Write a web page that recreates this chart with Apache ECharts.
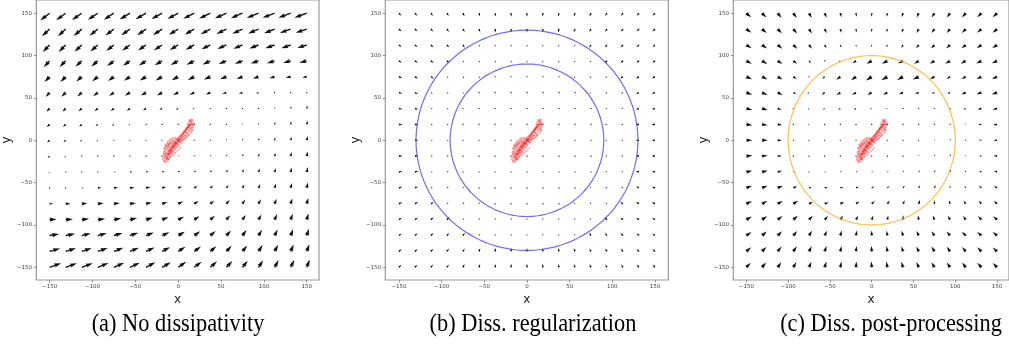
<!DOCTYPE html>
<html><head><meta charset="utf-8">
<script src="https://cdn.jsdelivr.net/npm/echarts@6/dist/echarts.min.js"></script>
<style>html,body{margin:0;padding:0;background:#fff}#c{width:1009px;height:347px}</style>
</head><body><div id="c"></div><script>
// ---------------- DATA ----------------
const GRID_X = [-150,-131.25,-112.5,-93.75,-75,-56.25,-37.5,-18.75,0,18.75,37.5,56.25,75,93.75,112.5,131.25,150];
const GRID_Y = [150,131.25,112.5,93.75,75,56.25,37.5,18.75,0,-18.75,-37.5,-56.25,-75,-93.75,-112.5,-131.25,-150];
const TICKS = [-150,-100,-50,0,50,100,150];
const CAPTIONS = ['(a) No dissipativity','(b) Diss. regularization','(c) Diss. post-processing'];
const CIRCLES_B = [90,130];
const CIRCLES_C = [100];

// (a) No dissipativity : vector components, rows top (y=150) to bottom (y=-150)
const A_U = [
[-9.3,-9.5,-9.7,-9.9,-10.1,-10.3,-10.5,-10.6,-10.8,-11.0,-11.2,-11.4,-11.6,-11.8,-12.0,-12.2,-12.3],
[-7.6,-7.8,-8.0,-8.3,-8.5,-8.7,-8.9,-9.1,-9.3,-9.5,-9.7,-9.9,-10.1,-10.3,-10.5,-10.8,-11.0],
[-6.8,-7.0,-7.2,-7.4,-7.6,-7.8,-8.0,-8.2,-8.4,-8.6,-8.8,-9.0,-9.1,-9.2,-9.3,-9.4,-9.5],
[-5.9,-6.1,-6.3,-6.5,-6.7,-6.9,-7.1,-7.3,-7.5,-7.6,-7.7,-7.8,-7.8,-7.8,-7.7,-7.6,-7.5],
[-5.0,-5.2,-5.4,-5.6,-5.8,-6.0,-6.2,-6.4,-6.5,-6.5,-6.4,-6.2,-6.0,-5.7,-5.3,-4.9,-4.5],
[-4.0,-4.2,-4.4,-4.6,-4.8,-5.0,-5.1,-5.1,-5.0,-4.8,-4.5,-4.1,-3.5,-2.6,-1.2,-0.3,0.1],
[-3.1,-3.2,-3.3,-3.3,-3.2,-3.1,-3.0,-2.8,-2.5,-2.0,-1.3,-0.6,0.0,0.3,0.5,0.6,0.7],
[-2.8,-2.7,-2.5,-2.3,-2.0,-1.6,-1.1,-0.6,-0.3,0.0,0.2,0.3,0.4,0.5,0.6,0.7,0.8],
[-2.5,-2.3,-2.0,-1.5,-1.0,-0.5,0.0,0.2,0.3,0.5,0.6,0.7,0.7,0.8,0.8,0.9,1.0],
[-2.0,-1.5,-1.0,-0.3,0.3,0.7,1.0,1.2,1.3,1.3,1.2,1.1,1.0,1.0,1.0,1.0,1.0],
[-1.2,-0.5,0.0,1.0,2.0,2.4,2.5,2.4,2.2,2.0,1.8,1.6,1.4,1.3,1.2,1.1,1.1],
[-0.3,0.5,2.0,3.5,4.2,4.5,4.5,4.2,3.8,3.3,2.8,2.4,2.0,1.7,1.5,1.3,1.2],
[3.5,4.8,5.5,5.9,6.0,6.0,5.8,5.4,5.0,4.4,3.8,3.3,2.8,2.4,2.0,1.7,1.5],
[7.0,7.2,7.3,7.3,7.3,7.1,6.8,6.4,5.8,5.2,4.5,3.9,3.3,2.9,2.5,2.1,1.8],
[9.5,9.4,9.2,9.0,8.7,8.3,7.8,7.3,6.7,6.0,5.3,4.6,4.0,3.5,3.0,2.6,2.2],
[10.5,10.3,10.0,9.8,9.5,9.0,8.5,7.9,7.3,6.7,6.0,5.3,4.7,4.1,3.5,3.0,2.6],
[11.5,11.2,11.0,10.7,10.3,9.8,9.3,8.7,8.0,7.4,6.7,6.0,5.3,4.6,4.0,3.5,3.0]
];
const A_V = [
[-7.3,-7.1,-6.9,-6.7,-6.5,-6.3,-6.1,-5.9,-5.8,-5.6,-5.4,-5.2,-5.0,-4.9,-4.7,-4.6,-4.5],
[-7.3,-7.1,-6.9,-6.7,-6.5,-6.3,-6.1,-5.9,-5.7,-5.5,-5.3,-5.0,-4.8,-4.5,-4.3,-4.0,-3.8],
[-7.2,-7.0,-6.8,-6.5,-6.2,-5.9,-5.6,-5.3,-5.0,-4.7,-4.4,-4.1,-3.8,-3.6,-3.4,-3.2,-3.0],
[-6.4,-6.2,-5.9,-5.6,-5.3,-5.0,-4.7,-4.4,-4.2,-3.9,-3.6,-3.3,-3.0,-2.7,-2.4,-2.1,-1.8],
[-5.4,-5.2,-4.9,-4.6,-4.3,-4.1,-3.9,-3.7,-3.5,-3.2,-2.9,-2.6,-2.2,-1.8,-1.5,-1.1,-0.8],
[-4.4,-4.1,-3.8,-3.6,-3.4,-3.2,-3.0,-2.8,-2.5,-2.2,-1.8,-1.4,-1.0,-0.6,-0.2,0.2,0.6],
[-3.4,-3.2,-3.0,-2.8,-2.6,-2.3,-2.0,-1.6,-1.2,-0.8,-0.4,0.0,0.4,1.0,1.7,2.4,3.1],
[-3.0,-2.7,-2.3,-1.9,-1.5,-1.1,-0.7,-0.3,0.0,0.3,0.6,1.0,1.5,2.0,2.6,3.2,3.8],
[-2.5,-2.0,-1.5,-1.0,-0.5,-0.2,0.0,0.1,0.3,0.6,1.0,1.5,2.0,2.5,3.0,3.6,4.3],
[-2.0,-1.3,-0.7,0.0,0.2,0.4,0.5,0.6,0.8,1.1,1.5,2.0,2.5,3.0,3.5,4.1,4.7],
[-1.0,-0.3,0.0,0.2,0.3,0.5,0.7,0.9,1.2,1.6,2.0,2.5,3.0,3.5,4.0,4.5,5.0],
[0.0,0.0,0.0,0.2,0.3,0.5,0.8,1.1,1.5,2.0,2.5,3.0,3.5,4.0,4.5,5.0,5.4],
[0.0,0.1,0.3,0.5,0.7,0.9,1.2,1.7,2.2,2.7,3.2,3.7,4.2,4.6,5.0,5.4,5.8],
[0.3,0.5,0.8,1.0,1.3,1.6,2.0,2.5,3.0,3.5,4.0,4.4,4.8,5.2,5.6,6.0,6.3],
[1.5,1.7,2.0,2.2,2.5,2.7,3.0,3.4,3.8,4.2,4.7,5.1,5.5,5.9,6.2,6.5,6.8],
[3.0,3.1,3.3,3.4,3.6,3.8,4.0,4.3,4.6,4.9,5.3,5.6,6.0,6.4,6.8,7.1,7.3],
[4.0,4.1,4.2,4.3,4.5,4.7,5.0,5.2,5.5,5.7,6.0,6.3,6.7,7.0,7.3,7.6,7.8]
];

// (b) Diss. regularization
const B_U = [
[1.7,1.6,1.4,1.3,1.1,0.8,0.6,0.3,0,-0.3,-0.6,-0.8,-1.1,-1.3,-1.4,-1.6,-1.7],
[1.8,1.7,1.6,1.4,1.2,0.9,0.7,0.3,0,-0.3,-0.7,-0.9,-1.2,-1.4,-1.6,-1.7,-1.8],
[1.9,1.8,1.7,1.5,1.3,0.6,0.4,0.2,0,-0.2,-0.4,-0.6,-1.3,-1.5,-1.7,-1.8,-1.9],
[2.0,2.0,1.8,1.7,0.9,0.7,0.5,0.3,0,-0.3,-0.5,-0.7,-0.9,-1.7,-1.8,-2.0,-2.0],
[2.2,2.1,2.0,1.1,1.0,0.8,0.3,0.2,0,-0.2,-0.3,-0.8,-1.0,-1.1,-2.0,-2.1,-2.2],
[2.3,2.2,1.3,1.2,1.1,0.4,0.3,0.2,0,-0.2,-0.3,-0.4,-1.1,-1.2,-1.3,-2.2,-2.3],
[2.3,2.3,1.3,1.3,0.5,0.5,0.4,0.3,0,-0.3,-0.4,-0.5,-0.5,-1.3,-1.3,-2.3,-2.3],
[2.4,2.4,1.4,1.4,0.6,0.6,0.5,0.4,0,-0.4,-0.5,-0.6,-0.6,-1.4,-1.4,-2.4,-2.4],
[2.4,2.4,1.4,1.4,0.6,0.6,0.6,0.6,0,-0.6,-0.6,-0.6,-0.6,-1.4,-1.4,-2.4,-2.4],
[2.4,2.4,1.4,1.4,0.6,0.6,0.5,0.4,0,-0.4,-0.5,-0.6,-0.6,-1.4,-1.4,-2.4,-2.4],
[2.3,2.3,1.3,1.3,0.5,0.5,0.4,0.3,0,-0.3,-0.4,-0.5,-0.5,-1.3,-1.3,-2.3,-2.3],
[2.3,2.2,1.3,1.2,1.1,0.4,0.3,0.2,0,-0.2,-0.3,-0.4,-1.1,-1.2,-1.3,-2.2,-2.3],
[2.2,2.1,2.0,1.1,1.0,0.8,0.3,0.2,0,-0.2,-0.3,-0.8,-1.0,-1.1,-2.0,-2.1,-2.2],
[2.0,2.0,1.8,1.7,0.9,0.7,0.5,0.3,0,-0.3,-0.5,-0.7,-0.9,-1.7,-1.8,-2.0,-2.0],
[1.9,1.8,1.7,1.5,1.3,0.6,0.4,0.2,0,-0.2,-0.4,-0.6,-1.3,-1.5,-1.7,-1.8,-1.9],
[1.8,1.7,1.6,1.4,1.2,0.9,0.7,0.3,0,-0.3,-0.7,-0.9,-1.2,-1.4,-1.6,-1.7,-1.8],
[1.7,1.6,1.4,1.3,1.1,0.8,0.6,0.3,0,-0.3,-0.6,-0.8,-1.1,-1.3,-1.4,-1.6,-1.7]
];
const B_V = [
[-1.7,-1.8,-1.9,-2.0,-2.2,-2.3,-2.3,-2.4,-2.4,-2.4,-2.3,-2.3,-2.2,-2.0,-1.9,-1.8,-1.7],
[-1.6,-1.7,-1.8,-2.0,-2.1,-2.2,-2.3,-2.4,-2.4,-2.4,-2.3,-2.2,-2.1,-2.0,-1.8,-1.7,-1.6],
[-1.4,-1.6,-1.7,-1.8,-2.0,-1.3,-1.3,-1.4,-1.4,-1.4,-1.3,-1.3,-2.0,-1.8,-1.7,-1.6,-1.4],
[-1.3,-1.4,-1.5,-1.7,-1.1,-1.2,-1.3,-1.4,-1.4,-1.4,-1.3,-1.2,-1.1,-1.7,-1.5,-1.4,-1.3],
[-1.1,-1.2,-1.3,-0.9,-1.0,-1.1,-0.5,-0.6,-0.6,-0.6,-0.5,-1.1,-1.0,-0.9,-1.3,-1.2,-1.1],
[-0.8,-0.9,-0.6,-0.7,-0.8,-0.4,-0.5,-0.6,-0.6,-0.6,-0.5,-0.4,-0.8,-0.7,-0.6,-0.9,-0.8],
[-0.6,-0.7,-0.4,-0.5,-0.3,-0.3,-0.4,-0.5,-0.6,-0.5,-0.4,-0.3,-0.3,-0.5,-0.4,-0.7,-0.6],
[-0.3,-0.3,-0.2,-0.3,-0.2,-0.2,-0.3,-0.4,-0.6,-0.4,-0.3,-0.2,-0.2,-0.3,-0.2,-0.3,-0.3],
[0,0,0,0,0,0,0,0,0,0,0,0,0,0,0,0,0],
[0.3,0.3,0.2,0.3,0.2,0.2,0.3,0.4,0.6,0.4,0.3,0.2,0.2,0.3,0.2,0.3,0.3],
[0.6,0.7,0.4,0.5,0.3,0.3,0.4,0.5,0.6,0.5,0.4,0.3,0.3,0.5,0.4,0.7,0.6],
[0.8,0.9,0.6,0.7,0.8,0.4,0.5,0.6,0.6,0.6,0.5,0.4,0.8,0.7,0.6,0.9,0.8],
[1.1,1.2,1.3,0.9,1.0,1.1,0.5,0.6,0.6,0.6,0.5,1.1,1.0,0.9,1.3,1.2,1.1],
[1.3,1.4,1.5,1.7,1.1,1.2,1.3,1.4,1.4,1.4,1.3,1.2,1.1,1.7,1.5,1.4,1.3],
[1.4,1.6,1.7,1.8,2.0,1.3,1.3,1.4,1.4,1.4,1.3,1.3,2.0,1.8,1.7,1.6,1.4],
[1.6,1.7,1.8,2.0,2.1,2.2,2.3,2.4,2.4,2.4,2.3,2.2,2.1,2.0,1.8,1.7,1.6],
[1.7,1.8,1.9,2.0,2.2,2.3,2.3,2.4,2.4,2.4,2.3,2.3,2.2,2.0,1.9,1.8,1.7]
];

// (c) Diss. post-processing
const C_U = [
[4.2,3.9,3.5,3.0,2.4,1.7,1.0,0.4,0,-0.6,-1.2,-1.8,-2.4,-2.9,-3.3,-3.6,-3.9],
[4.5,4.2,3.8,3.3,2.6,1.8,1.0,0.4,0,-0.6,-1.3,-1.9,-2.5,-3.0,-3.4,-3.7,-4.0],
[4.7,4.5,4.1,3.5,2.6,1.6,0.8,0.2,-0.3,-0.9,-1.6,-2.3,-2.9,-3.4,-3.7,-4.0,-4.2],
[4.9,4.7,4.3,3.4,2.0,0.5,-1.5,-3.2,-4.5,-4.8,-4.3,-4.0,-4.0,-4.2,-4.4,-4.5,-4.6],
[5.0,4.8,4.3,3.0,0.8,-2.2,-3.6,-4.4,-5.0,-5.2,-5.3,-5.2,-4.0,-3.0,-3.8,-4.3,-4.6],
[5.2,5.0,4.4,2.8,-1.5,-2.8,-3.3,-3.6,-3.8,-3.8,-3.7,-3.3,-2.5,-2.5,-3.8,-4.4,-4.8],
[5.3,5.0,3.5,0.8,-1.3,-1.8,-2.0,-2.0,-1.8,-1.5,-1.0,-0.5,0.0,-0.8,-2.5,-3.5,-4.0],
[5.3,5.0,3.8,0.3,-1.2,-1.0,-0.7,-0.4,-0.2,0.0,0.1,0.2,0.3,0.2,-1.2,-2.8,-3.5],
[5.3,5.0,3.6,0.2,-0.8,-0.4,0.0,0.1,0.2,0.3,0.4,0.4,0.4,0.5,-1.0,-2.4,-3.2],
[5.3,5.0,3.6,0.5,-0.3,0.2,0.5,0.7,0.8,0.7,0.6,0.5,0.5,0.5,-0.8,-2.2,-3.0],
[5.2,5.0,4.0,1.5,1.0,1.4,1.5,1.4,1.3,1.1,1.0,0.9,0.8,0.6,-0.8,-2.0,-2.8],
[5.1,5.0,4.6,3.5,2.6,2.8,2.7,2.5,2.2,1.8,1.5,1.2,1.0,0.2,-1.0,-2.2,-2.8],
[5.0,4.8,4.6,4.2,3.6,3.5,3.4,3.0,2.6,2.0,1.6,1.2,0.2,-1.0,-1.8,-2.5,-3.0],
[4.8,4.6,4.3,3.9,3.4,3.0,2.6,2.0,1.5,0.8,0.2,-0.6,-1.3,-2.0,-2.5,-3.0,-3.4],
[4.5,4.3,3.9,3.4,2.8,2.1,1.4,0.7,0.0,-0.7,-1.4,-2.0,-2.5,-3.0,-3.4,-3.7,-3.9],
[4.2,3.9,3.5,3.0,2.4,1.7,1.0,0.4,-0.2,-0.8,-1.4,-2.0,-2.5,-2.9,-3.3,-3.6,-3.8],
[3.9,3.6,3.2,2.7,2.1,1.5,0.9,0.3,-0.3,-0.9,-1.5,-2.0,-2.5,-2.9,-3.3,-3.6,-3.8]
];
const C_V = [
[-3.6,-3.8,-4.0,-4.1,-4.2,-4.0,-3.6,-3.2,-3.0,-3.2,-3.5,-3.7,-3.8,-3.8,-3.7,-3.6,-3.5],
[-3.3,-3.5,-3.7,-3.9,-3.9,-3.7,-3.3,-2.9,-2.7,-2.9,-3.2,-3.4,-3.5,-3.5,-3.4,-3.3,-3.2],
[-2.9,-3.1,-3.3,-3.4,-3.3,-2.9,-2.4,-2.0,-2.0,-2.2,-2.6,-2.9,-3.0,-3.0,-2.9,-2.8,-2.7],
[-2.5,-2.7,-2.8,-2.6,-2.0,-1.0,-1.2,-2.0,-2.6,-2.5,-2.4,-2.5,-2.6,-2.6,-2.5,-2.3,-2.1],
[-2.2,-2.4,-2.5,-2.0,-0.8,-1.8,-2.6,-3.0,-3.2,-3.0,-2.8,-2.5,-2.2,-1.9,-2.0,-2.0,-1.9],
[-1.8,-2.0,-2.0,-1.4,-1.3,-1.8,-2.0,-2.0,-1.9,-1.7,-1.4,-1.1,-0.8,-1.0,-1.4,-1.5,-1.5],
[-1.3,-1.3,-1.0,-0.3,-1.0,-1.2,-1.2,-1.0,-0.8,-0.5,-0.2,0.0,0.2,0.0,-0.6,-0.8,-1.0],
[-0.7,-0.7,-0.5,0.0,-0.8,-0.5,-0.3,-0.1,0.0,0.2,0.4,0.7,1.0,1.2,0.5,-0.4,-0.6],
[0.0,0.0,0.0,0.0,-0.4,-0.2,0.0,0.1,0.2,0.4,0.6,0.9,1.2,1.5,0.6,0.2,0.0],
[0.6,0.6,0.4,0.0,-0.2,0.1,0.2,0.3,0.5,0.7,1.0,1.3,1.6,1.9,1.0,0.6,0.5],
[1.2,1.2,1.0,0.4,0.2,0.3,0.4,0.6,0.7,1.0,1.3,1.7,2.0,2.0,1.5,1.2,1.1],
[1.8,1.8,1.8,1.5,0.5,0.6,0.8,1.0,1.3,1.6,2.0,2.3,2.6,2.0,1.8,1.8,1.6],
[2.3,2.4,2.5,2.6,1.5,1.2,1.6,2.0,2.4,2.8,3.1,3.4,3.0,3.0,2.8,2.6,2.4],
[2.8,3.0,3.2,3.4,3.4,3.2,3.4,3.5,3.6,3.7,3.8,3.8,3.7,3.5,3.3,3.1,2.9],
[3.2,3.5,3.8,4.0,4.1,4.2,4.3,4.3,4.3,4.2,4.1,4.0,3.8,3.6,3.4,3.2,3.0],
[3.6,3.9,4.2,4.5,4.6,4.7,4.8,4.8,4.8,4.7,4.6,4.4,4.2,4.0,3.8,3.6,3.4],
[3.9,4.2,4.5,4.7,4.9,5.0,5.1,5.1,5.1,5.0,4.9,4.7,4.5,4.3,4.1,3.9,3.7]
];

// red trajectory samples (same in all panels)
const RED_X = [-12,-11,-10,-9.5,-9,-8,-7,-6.5,-6,-5,-4,-3.5,-3,-2,-1,0,0.5,1,2,3,4,5,6,7,8,9,10,11,12,13,14,14.5,
 -11.5,-8.5,-5.5,-2.5,-0.5,1.5,3.5,5.5,7.5,9.5,11.5,13.5,
 3,5,7,9,11,12.5,14,15,16,16.5,16,15,13.5,12,11,15.5,17,17,14,13,15,10,12,13,8,6,4,16,11.5,9.5,
 6,8,4,2,10,12,9,0,-1,
 -15,-14,-16,-13,-15,-16,-14,-12,-13,-14,-15,-12,-13,-12,-11,-10,-11,-9,-8,-10,-8,-7,-6,-5,-4,-6,-3,-2,-9,-8,-7,-10,-11,-9,-7,-6,-5,-4,-3,-2,-1,0,1,2,-12,-13,-14,-15,-16,-14,-13,-12,-11,-10,-9,-8,-7,-6,-5,-4,-3,-10,-12,-16,-17,3,0,-2,-4,-6,-8,
 1,3,5,7,9,11,13,15,17,14,16,18,12,10,8,6,4,2,
 -17,-18,-15,-13,-11,-9,-7,-5,-3,-1,1,-17,-16,-14,-12,-10,-8,-6,-4,-15,-13,-11,-9,-16,-12,-10,-8,-6,-4,-2,0,-14,-13,-11,-9,-7,-5,-3,-1,1,
 -13,-15,-12,-10,-8,-6,-3,-1,2,4,-5,-3,-1,1,3,-16,-14,-11,-9,-7,-17,-15,-13,-11,5,7,9,11,13,15,17,18,16,14,12,10,8,6];
const RED_Y = [-17,-15.5,-14,-13,-12,-10.5,-9.5,-8.5,-7.5,-6.5,-5,-4.5,-3.5,-2.5,-1,0,0.5,1.5,2.5,4,5,6.5,7.5,9,10.5,11.5,13,14.5,15.5,17,18.5,19.5,
 -16,-11.5,-7,-3,-0.5,2,4.5,7,10,12.5,15,18,
 1.5,3,4.5,6,8,10,12,14,16,18,20,21.5,22,21,19,11,15,19,23,24,24.5,8.5,12,14,6,4.5,2.5,22,17,9,
 10,12,7,5,15,18,14,3,1.5,
 -24,-22,-22,-23,-20,-18,-18,-20,-16,-14,-15,-13,-11,-9,-11,-9,-7,-8,-6,-5,-3,-5,-3,-2,-1,-1,0,1,-15,-14,-12,-16,-18,-18,-15,-11,-9,-8,-6,-5,-4,-3,-1,0,-6,-8,-10,-12,-16,-20,-19,-15,-13,-12,-10,-8,-7,-5,-4,-3,-2,-20,-22,-25,-20,-2,-5,-8,-10,-13,-16,
 4,6,9,11,13,16,19,23,24,16,13,17,6,4,2,1,0,-1,
 -24,-22,-26,-25,-22,-20,-18,-14,-11,-8,-6,-14,-10,-7,-4,-2,0,1,2,-8,-6,-4,-3,-13,-17,-14,-12,-9,-7,-4,-1,-16,-21,-16,-11,-8,-6,-3,-2,0,
 -3,-5,-1,0,2,3,3,2,-2,-3,-17,-15,-13,-11,-9,-9,-6,-5,-3,-1,-16,-18,-21,-23,0,2,3,5,7,9,12,21,19,18,16,14,10,8];

// ---------------- RENDER ----------------
const QUIVER_SCALE = [1.17, 1.7, 1.35];   // axis units per vector unit, per panel (autoscaled like matplotlib)
const SHAFT_W = 1.4;         // px, arrow shaft width
const GRIDS = [
  {left:36, top:-1, width:283, height:281},
  {left:385.3, top:-1, width:283, height:281},
  {left:733.3, top:-1, width:283, height:281}
];
const XRANGE = [[-165.5,164.3],[-166,165.6],[-165.6,164.3]];
const YRANGE = [-165,165.6];
const CAP_X = [178, 533, 891];

function quiverData(U,V){
  const d=[];
  for(let j=0;j<GRID_Y.length;j++) for(let i=0;i<GRID_X.length;i++) d.push([GRID_X[i],GRID_Y[j],U[j][i],V[j][i]]);
  return d;
}
function makeArrow(qs){
  return function(params, api){
    const x=api.value(0), y=api.value(1), u=api.value(2), v=api.value(3);
    const p0=api.coord([x,y]);
    const p1=api.coord([x+u*qs, y+v*qs]);
    const dx=p1[0]-p0[0], dy=p1[1]-p0[1];
    const len=Math.hypot(dx,dy);
    const w=SHAFT_W, L=len/w;
    let pts=[];
    if(L<1){
      for(let k=0;k<6;k++){const t=k*Math.PI/3; pts.push([p0[0]+Math.cos(t)*0.5*w, p0[1]+Math.sin(t)*0.5*w]);}
    } else {
      const ux=dx/len, uy=dy/len, nx=-uy, ny=ux;
      let X,Y=[0.5,0.5,1.5,0,-1.5,-0.5,-0.5];
      if(L>=5){X=[0,L-4.5,L-5,L,L-5,L-4.5,0];}
      else {const s=L/5; X=[0,0.5,0,5,0,0.5,0].map(a=>a*s); Y=Y.map(a=>a*s);}
      for(let k=0;k<X.length;k++) pts.push([p0[0]+(X[k]*ux+Y[k]*nx)*w, p0[1]+(X[k]*uy+Y[k]*ny)*w]);
    }
    return {type:'polygon', shape:{points:pts}, style:{fill:'#111'}};
  };
}
function circleRenderer(color){
  return function(params, api){
    const r=api.value(0); const pts=[];
    for(let a=0;a<=360;a+=2){const t=a*Math.PI/180; pts.push(api.coord([r*Math.cos(t), r*Math.sin(t)]));}
    return {type:'polyline', shape:{points:pts}, style:{stroke:color, fill:null, lineWidth:1.2}};
  };
}
const fmt = v => v<0 ? '\u2212'+(-v) : String(v);
const grids=[], xAxes=[], yAxes=[], series=[];
const FIELDS=[[A_U,A_V],[B_U,B_V],[C_U,C_V]];
for(let g=0; g<3; g++){
  grids.push(Object.assign({show:true, borderColor:'#9a9a9a', borderWidth:1.2, backgroundColor:'transparent', containLabel:false}, GRIDS[g]));
  xAxes.push({type:'value', gridIndex:g, position:'bottom', min:XRANGE[g][0], max:XRANGE[g][1], name:'x', nameLocation:'middle', nameGap:15,
    nameTextStyle:{fontSize:12, color:'#222', fontFamily:'DejaVu Sans', verticalAlign:'middle'},
    axisLine:{show:false, onZero:false}, splitLine:{show:false},
    axisTick:{show:true, length:2.5, lineStyle:{color:'#777', width:0.8}, customValues:TICKS},
    axisLabel:{fontSize:5.5, color:'#444', fontFamily:'DejaVu Sans', margin:3.3, customValues:TICKS, formatter:fmt}});
  yAxes.push({type:'value', gridIndex:g, position:'left', min:YRANGE[0], max:YRANGE[1], name:'y', nameLocation:'middle', nameGap:25,
    nameTextStyle:{fontSize:12, color:'#222', fontFamily:'DejaVu Sans', verticalAlign:'middle'},
    axisLine:{show:false, onZero:false}, splitLine:{show:false},
    axisTick:{show:true, length:2.5, lineStyle:{color:'#777', width:0.8}, customValues:TICKS},
    axisLabel:{fontSize:5.5, color:'#444', fontFamily:'DejaVu Sans', margin:4.3, customValues:TICKS, formatter:fmt}});
  series.push({type:'custom', xAxisIndex:g, yAxisIndex:g, renderItem:makeArrow(QUIVER_SCALE[g]), encode:{x:0,y:1},
    data:quiverData(FIELDS[g][0],FIELDS[g][1]), silent:true, animation:false, z:2});
}
series.push({type:'custom', xAxisIndex:1, yAxisIndex:1, renderItem:circleRenderer('rgba(60,60,255,0.75)'), data:CIRCLES_B.map(r=>[r]), silent:true, animation:false, z:3});
series.push({type:'custom', xAxisIndex:2, yAxisIndex:2, renderItem:circleRenderer('rgba(255,180,50,0.85)'), data:CIRCLES_C.map(r=>[r]), silent:true, animation:false, z:3});
for(let g=0; g<3; g++){
  series.push({type:'scatter', xAxisIndex:g, yAxisIndex:g, symbolSize:1.8, data:RED_X.map((x,i)=>[x,RED_Y[i]]),
    itemStyle:{color:'rgba(255,0,0,0.5)'}, silent:true, animation:false, z:4});
}
const chart = echarts.init(document.getElementById('c'), null, {renderer:'canvas'});
chart.setOption({
  animation:false, backgroundColor:'#fff',
  grid:grids, xAxis:xAxes, yAxis:yAxes, series:series,
  graphic: CAPTIONS.map((t,i)=>({type:'text', x:CAP_X[i], y:324, scaleX:0.86, style:{text:t, fontSize:26, fontFamily:'"Liberation Serif", "Times New Roman", serif', fill:'#000', align:'center', verticalAlign:'middle'}}))
});
</script></body></html>
